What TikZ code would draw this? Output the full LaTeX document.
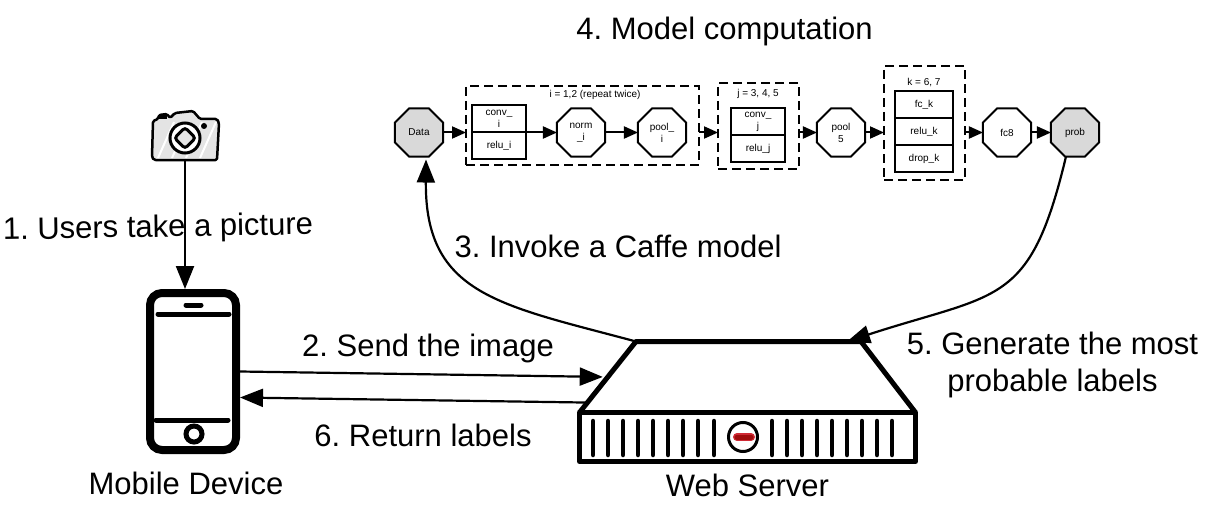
\documentclass[tikz,border=0pt]{standalone}
\usepackage{fontspec}
\setmainfont{Liberation Sans}
\usepackage{tikz}
\usetikzlibrary{arrows.meta,positioning,shapes.geometric,calc}
\definecolor{opgray}{HTML}{D9D9D9}
\definecolor{ledred}{HTML}{A00D0D}
\definecolor{ledrim}{HTML}{D02A35}
\frenchspacing
\begin{document}
\begin{tikzpicture}[
x=1pt,y=-1pt,
node distance=18pt and 28pt,
op/.style={regular polygon,regular polygon sides=8,
draw,line width=2pt,minimum size=52pt,inner sep=0pt,outer sep=0pt,align=center,
font=\fontsize{10}{12}\selectfont},
opgrey/.style={op,fill=opgray},
cell/.style={rectangle,draw,line width=2pt,minimum width=54pt,minimum height=27pt,
inner sep=0pt,outer sep=0pt,align=center,font=\fontsize{10}{12}\selectfont},
group/.style={rectangle,draw,line width=2pt,dash pattern=on 9pt off 5pt,inner sep=0pt,
outer sep=0pt},
note/.style={font=\fontsize{10}{12}\selectfont,inner sep=0pt},
lab/.style={font=\fontsize{31}{37}\selectfont,inner sep=0pt,align=center},
arr/.style={-{Triangle[length=14pt,width=12pt]},line width=2pt},
bigarr/.style={-{Triangle[length=23pt,width=18pt]},line width=2.2pt},
bar/.style={line width=4.5pt,line cap=round}
]
\useasboundingbox (0,0) rectangle (1220,524);
% model pipeline
\node[opgrey] (data) at (419,132.5) {Data};
\node[group,minimum width=233pt,minimum height=79pt] (groupi) at (582.5,125.5) {};
\node[note] (notei) at (595,95) {i = 1,2 (repeat twice)};
\node[cell] (convi) at (499,118.5) {conv\_\\i};
\node[cell,below=0pt of convi] (relui) {relu\_i};
\node[op] (normi) at (581,132.5) {norm\\\_i};
\node[op] (pooli) at (662,132.5) {pool\_\\i};
\node[group,minimum width=81pt,minimum height=86pt] (groupj) at (758.5,126) {};
\node[note] (notej) at (758,94) {j = 3, 4, 5};
\node[cell] (convj) at (758,121.5) {conv\_\\j};
\node[cell,below=0pt of convj] (reluj) {relu\_j};
\node[op] (poolf) at (841,132.5) {pool\\5};
\node[group,minimum width=81pt,minimum height=114pt] (groupk) at (924.5,123) {};
\node[note] (notek) at (924,83) {k = 6, 7};
\node[cell,minimum width=58pt] (fck) at (924,104.5) {fc\_k};
\node[cell,minimum width=58pt,below=0pt of fck] (reluk) {relu\_k};
\node[cell,minimum width=58pt,below=0pt of reluk] (dropk) {drop\_k};
\node[op] (fce) at (1007,132.5) {fc8};
\node[opgrey] (prob) at (1075,132.5) {prob};
\foreach \a/\b in {data/groupi,relui/normi,normi/pooli,groupi/groupj,groupj/poolf,poolf/groupk,groupk/fce,fce/prob}
\draw[arr] (\a.east |- data) -- (\b.west |- data);
% camera
\node[minimum width=67pt,minimum height=48pt,inner sep=0pt] (camera) at (185,137) {};
\draw[fill=opgray!70,draw=none]
(153,121) -- (158,119) -- (159,115) -- (167,114) -- (170,118) -- (175,113) -- (193,111)
-- (200,119) -- (217,119) -- (219,123) -- (217,160) -- (154,160) -- (152,157) -- cycle;
\foreach \x in {158,172,186,200}
\draw[white,line width=2pt] (\x,158) -- (\x+16,122);
\draw[line width=2.5pt,rounded corners=1.5pt,line join=round]
(153,121) -- (158,119) -- (159,115) -- (167,114) -- (170,118) -- (175,113) -- (193,111)
-- (200,119) -- (217,119) -- (219,123) -- (217,160) -- (154,160) -- (152,157) -- cycle;
\fill (158,115.5) rectangle (167,119);
\draw[line width=3pt,fill=white] (185,138) circle (15pt);
\draw[line width=3pt,fill=opgray!70,rounded corners=3pt] (185,127.5) -- (195.5,138) -- (185,148.5) -- (174.5,138) -- cycle;
\fill (204,126) circle (3pt);
% mobile device
\node[rectangle,draw,line width=8pt,rounded corners=12pt,minimum width=86pt,minimum height=157pt,
inner sep=0pt] (phone) at (193,371.5) {};
\draw[line width=5pt,line cap=round] (186,305) -- (201,305);
\draw[line width=5pt,line cap=round] (158,314) -- (229,314);
\draw[line width=5pt,line cap=round] (156,420) -- (228,420);
\draw[line width=5pt] (194,434) circle (8pt);
\node[lab,below=18pt of phone,xshift=-7pt] (mobile) {Mobile Device};
% web server
\node[rectangle,draw,line width=5pt,minimum width=336pt,minimum height=49pt,inner sep=0pt,
line join=round] (srv) at (747.5,437) {};
\coordinate (srvbl) at (579.5,412.5);
\coordinate (srvtl) at (636,341.5);
\coordinate (srvtr) at (861,341.5);
\coordinate (srvbr) at (915.5,412.5);
\draw[line width=5pt,line join=round] (srvbl) -- (srvtl) -- (srvtr) -- (srvbr);
\foreach \x in {593,608,623,638,653,668,683,698,714,772,787,802,817,832,847,862,877,892}
\draw[bar] (\x,421) -- (\x,455);
\draw[line width=3pt] (743,437) circle (14.5pt);
\draw[ledrim,line width=8pt,line cap=round] (737,437) -- (751,437);
\draw[ledred,line width=5pt,line cap=round] (737,437) -- (751,437);
\node[lab,below=10pt of srv] (webserver) {Web Server};
\coordinate (sendend) at ($(srvbl)!0.5!(srvtl)$);
\coordinate (retstart) at ($(srvbl)!0.14!(srvtl)$);
% connectors
\draw[bigarr] (camera.south) -- (camera.south |- phone.north);
\draw[bigarr,shorten >=5pt] (phone.east) -- (sendend);
\draw[bigarr] (retstart) -- ([yshift=-26pt]phone.east);
\draw[bigarr] (srvtl) .. controls (500,305) and (425,295) .. ([xshift=7pt,yshift=-3pt]data.south);
\draw[bigarr] ([xshift=-9pt]prob.south) .. controls (1030,307) and (999,292) .. ([xshift=-14pt]srvtr);
% step labels
\node[lab,rotate=1] (stepa) at (158,229) {1. Users take a picture};
\node[lab] (stepb) at (428,348) {2. Send the image};
\node[lab] (stepc) at (618,246) {3. Invoke a Caffe model};
\node[lab] (stepd) at (724.5,31) {4. Model computation};
\node[lab] (stepe) at (1052.5,365) {5. Generate the most\\probable labels};
\node[lab] (stepf) at (423,435) {6. Return labels};
\end{tikzpicture}
\end{document}
